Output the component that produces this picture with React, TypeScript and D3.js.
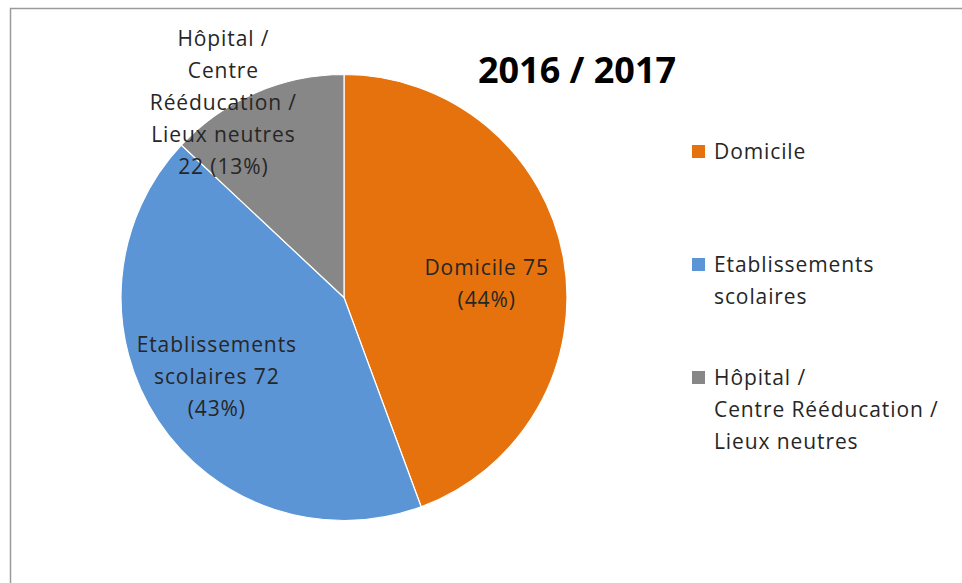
import React from 'react';
import * as d3 from 'd3';

const categories = ['Domicile', 'Etablissements scolaires', 'Hôpital / Centre Rééducation / Lieux neutres'];
const values = [75, 72, 22];
const colors = ['#E5720D', '#5B95D6', '#878787'];
// slice label lines (value and percent added below)
const sliceLabelLines = [
  ['Domicile {v}', '({p})'],
  ['Etablissements', 'scolaires {v}', '({p})'],
  ['Hôpital /', 'Centre', 'Rééducation /', 'Lieux neutres', '{v} ({p})'],
];
const legendLines = [
  ['Domicile'],
  ['Etablissements', 'scolaires'],
  ['Hôpital /', 'Centre Rééducation /', 'Lieux neutres'],
];
const title = '2016 / 2017';

const width = 962;
const height = 583;
const cx = 344;
const cy = 297.5;
const radius = 223;
const font = '"Open Sans", Lato, sans-serif';
const fontSize = 21;
const spacing = 0.9;
const lineH = 32;

// label radius factor, angle tweak and vertical nudge (best-fit placement)
const labelPlace = [
  { r: 0.65, da: 0, dy: 12 },
  { r: 0.68, da: 0.01, dy: -3 },
  { r: 1.02, da: -0.15, dy: -2 },
];

export default function App() {
  const pie = d3.pie<number>().sort(null).value(d => d);
  const arcs = pie(values);
  const arc = d3.arc<d3.PieArcDatum<number>>().innerRadius(0).outerRadius(radius);
  const total = d3.sum(values);
  const pct = (v: number) => `${Math.round((v / total) * 100)}%`;

  return (
    <svg width={width} height={height} style={{ position: 'absolute', left: 0, top: 0, background: '#fff' }}>
      <path d={`M10.5,${height} V8.5 H${width}`} fill="none" stroke="#9a9a9a" strokeWidth={1.5} />
      <g transform={`translate(${cx},${cy})`}>
        {arcs.map((a, i) => (
          <path key={i} d={arc(a) || ''} fill={colors[i]} stroke="#fff" strokeWidth={1.2} />
        ))}
        {arcs.map((a, i) => {
          const lp = labelPlace[i];
          const mid = (a.startAngle + a.endAngle) / 2 + lp.da;
          const rr = radius * lp.r;
          const x = Math.sin(mid) * rr;
          const y = -Math.cos(mid) * rr + lp.dy;
          const lines = sliceLabelLines[i].map(s => s.replace('{v}', String(values[i])).replace('{p}', pct(values[i])));
          const y0 = y - ((lines.length - 1) * lineH) / 2;
          return (
            <text key={i} x={x} textAnchor="middle" fontFamily={font} fontSize={fontSize} letterSpacing={spacing} fill="#262626">
              {lines.map((l, j) => (
                <tspan key={j} x={x} y={y0 + j * lineH + 7}>{l}</tspan>
              ))}
            </text>
          );
        })}
      </g>
      <text x={577} y={83} textAnchor="middle" fontFamily={font} fontWeight="bold" fontSize={36} fill="#000">{title}</text>
      {categories.map((c, i) => {
        const top = [159, 272, 385][i];
        return (
          <g key={c}>
            <rect x={692} y={top - 14} width={13} height={13} fill={colors[i]} />
            <text fontFamily={font} fontSize={fontSize} letterSpacing={spacing} fill="#262626">
              {legendLines[i].map((l, j) => (
                <tspan key={j} x={714} y={top + j * lineH}>{l}</tspan>
              ))}
            </text>
          </g>
        );
      })}
    </svg>
  );
}
